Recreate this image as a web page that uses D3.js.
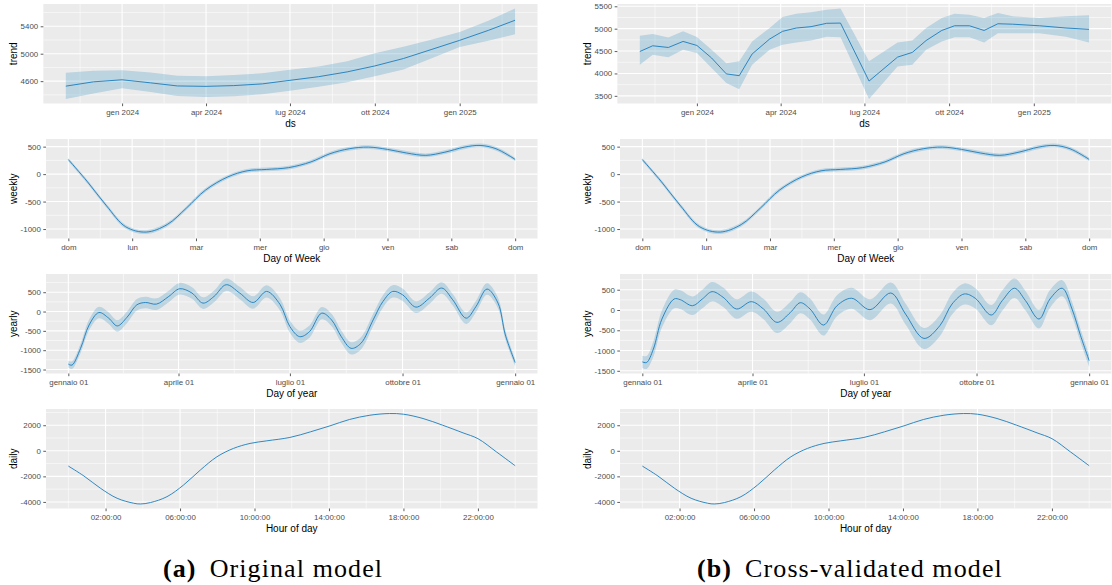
<!DOCTYPE html>
<html lang="it">
<head>
<meta charset="UTF-8">
<title>Prophet components: original vs cross-validated</title>
<script src="https://cdn.jsdelivr.net/npm/d3@7/dist/d3.min.js"></script>
<style>
    body { margin: 0; background: #fff; }
    svg { display: block; font-family: "Liberation Sans", Arial, sans-serif; }
    .caption { font-family: "Liberation Serif", "Times New Roman", serif; }
</style>
</head>
<body>
<svg id="chart" width="1112" height="585"></svg>
<script>
// ---- trend (dates + value, lower, upper) ----
const trendDatesA = ["2023-11-01", "2023-12-01", "2024-01-01", "2024-02-01", "2024-03-01", "2024-04-01",
    "2024-05-01", "2024-06-01", "2024-07-01", "2024-08-01", "2024-09-01", "2024-10-01", "2024-11-01",
    "2024-12-01", "2025-01-01", "2025-02-01", "2025-03-02"];
const trendA   = [4527, 4590, 4620, 4575, 4530, 4524, 4535, 4560, 4612, 4665, 4735, 4822, 4930, 5060, 5195, 5340, 5488];
const trendALo = [4340, 4420, 4495, 4440, 4385, 4370, 4380, 4410, 4460, 4520, 4585, 4673, 4770, 4930, 5097, 5190, 5283];
const trendAHi = [4722, 4750, 4760, 4725, 4680, 4673, 4690, 4715, 4765, 4815, 4890, 5005, 5100, 5205, 5317, 5480, 5659];

const trendDatesB = ["2023-10-31", "2023-11-14", "2023-12-01", "2023-12-17", "2024-01-01", "2024-01-17",
    "2024-02-02", "2024-02-16", "2024-03-01", "2024-03-20", "2024-04-03", "2024-04-18", "2024-05-04",
    "2024-05-21", "2024-06-05", "2024-07-06", "2024-08-06", "2024-08-22", "2024-09-06", "2024-09-23",
    "2024-10-07", "2024-10-23", "2024-11-08", "2024-11-23", "2024-12-09", "2025-01-07", "2025-02-05", "2025-03-02"];
const trendB   = [4490, 4618, 4580, 4715, 4625, 4345, 3990, 3950, 4435, 4768, 4940, 5015, 5045, 5120,
    5125, 3830, 4365, 4470, 4735, 4960, 5065, 5065, 4960, 5110, 5100, 5065, 5015, 4985];
const trendBLo = [4195, 4420, 4360, 4530, 4455, 4120, 3785, 3650, 4195, 4530, 4640, 4690, 4735, 4820,
    4810, 3430, 4155, 4195, 4530, 4715, 4810, 4810, 4690, 4900, 4900, 4900, 4820, 4690];
const trendBHi = [4840, 4880, 4805, 4940, 4815, 4530, 4230, 4270, 4715, 5015, 5260, 5335, 5365, 5420,
    5450, 4270, 4690, 4735, 5015, 5240, 5335, 5310, 5240, 5350, 5275, 5240, 5275, 5300];

const trendTicks = ["2024-01-01", "2024-04-01", "2024-07-01", "2024-10-01", "2025-01-01"];
const trendTickLabels = ["gen 2024", "apr 2024", "lug 2024", "ott 2024", "gen 2025"];
const trendYTicksA = [4600, 5000, 5400];
const trendYTicksB = [3500, 4000, 4500, 5000, 5500];

// ---- weekly (day 0 = domenica) ----
const weeklyDays = [0, 0.3, 0.6, 0.9, 1.22, 1.55, 1.85, 2.15, 2.5, 2.8, 3.1, 3.45, 3.8, 4.1, 4.4, 4.7,
    5.0, 5.3, 5.6, 5.9, 6.2, 6.45, 6.7, 7.0];
const weekly   = [265, -140, -580, -960, -1055, -918, -618, -290, -50, 60, 85, 118, 222, 372, 462, 492,
    450, 384, 342, 400, 490, 522, 462, 268];
const weeklyHw = [30, 35, 35, 35, 35, 35, 35, 35, 35, 35, 35, 35, 35, 35, 35, 35,
    35, 35, 35, 35, 35, 35, 35, 30];
const weekLabels = ["dom", "lun", "mar", "mer", "gio", "ven", "sab", "dom"];
const weeklyYTicks = [-1000, -500, 0, 500];

// ---- yearly (day of year) ----
const yearlyDaysA = [0, 3, 10, 17, 25, 33, 40, 48, 56, 63, 72, 82, 91, 101, 110, 119, 129, 140, 151, 162,
    173, 181, 189, 197, 207, 215, 223, 231, 239, 249, 257, 265, 273, 284, 295, 305, 314, 325, 333, 342,
    351, 357, 365];
const yearlyA = [-1360, -1386, -952, -346, -26, -172, -372, -146, 174, 234, 192, 390, 590, 478, 218, 390,
    694, 478, 234, 520, 180, -390, -650, -520, -42, -216, -650, -952, -822, -216, 260, 520, 434, 114, 348,
    608, 304, -172, 130, 582, 218, -606, -1320];
const yearlyHwA = [90, 100, 120, 140, 150, 150, 150, 150, 150, 150, 150, 150, 150, 150, 150, 150, 160, 160,
    160, 160, 160, 160, 160, 160, 160, 160, 160, 160, 160, 160, 160, 160, 160, 150, 150, 150, 150, 150, 150,
    150, 140, 120, 90];

const yearlyDaysB = [0, 3.5, 9, 16, 26, 31, 41, 49, 57, 66, 77, 89, 99, 110, 121, 129, 137, 148, 159, 171,
    186, 203, 215, 230, 243, 253, 263, 272, 285, 294, 304, 313, 324, 333, 343, 351, 358, 365];
const yearlyB = [-1280, -1295, -965, -223, 272, 255, 106, 272, 453, 314, 25, 206, 25, -305, -58, 180, 25,
    -371, 106, 290, 8, 420, -99, -701, -388, 148, 396, 289, -124, 231, 537, 231, -223, 272, 537, 25, -635, -1250];
const yearlyHwB = [150, 160, 190, 210, 230, 230, 230, 230, 240, 240, 240, 250, 250, 260, 260, 260, 260, 260,
    260, 260, 260, 260, 260, 260, 260, 260, 260, 250, 250, 250, 240, 240, 230, 220, 200, 180, 160, 150];

const yearTicks = [0, 90, 181, 273, 365];
const yearTickLabels = ["gennaio 01", "aprile 01", "luglio 01", "ottobre 01", "gennaio 01"];
const yearlyYTicks = [-1500, -1000, -500, 0, 500];

// ---- daily (hour of day) ----
const dailyHours = [0, 0.84, 1.73, 2.62, 3.51, 3.87, 4.41, 5.3, 6.19, 7.09, 7.98, 8.87, 9.76, 10.66, 11.9,
    13, 14.05, 15.1, 16.2, 17.26, 18, 19.05, 20.1, 21.2, 22, 23, 24];
const daily = [-1194, -1973, -2935, -3713, -4103, -4160, -4050, -3588, -2675, -1505, -468, 187, 577, 780,
    1045, 1482, 1950, 2450, 2785, 2917, 2863, 2527, 2005, 1404, 950, -90, -1170];
const hourTicks = [2, 6, 10, 14, 18, 22];
const hourTickLabels = ["02:00:00", "06:00:00", "10:00:00", "14:00:00", "18:00:00", "22:00:00"];
const dailyYTicks = [-4000, -2000, 0, 2000];

const captions = [["(a)", "Original model"], ["(b)", "Cross-validated model"]];

const BLUE = "#0072B2";
const svg = d3.select("#chart");
const ms = s => Date.parse(s + "T00:00:00Z");
const smooth = d3.curveCatmullRom.alpha(0.5);

// minor breaks: midpoints, plus one step beyond each end
function minors(t, dom) {
    const out = [];
    out.push(t[0] - (t[1] - t[0]) / 2);
    for (let i = 1; i < t.length; i++) out.push((t[i - 1] + t[i]) / 2);
    out.push(t[t.length - 1] + (t[t.length - 1] - t[t.length - 2]) / 2);
    return out.filter(v => v >= dom[0] && v <= dom[1]);
}

function panel(x0, y0, p) {
    const top = y0 + 4, bottom = y0 + 103.5, right = x0 + 537.5;
    const back = svg.append("g"), marks = svg.append("g"), axes = svg.append("g");

    const lo = p.lo || p.y, hi = p.hi || p.y;
    const yMin = d3.min(lo), yMax = d3.max(hi), padY = (yMax - yMin) * 0.05;
    const y = d3.scaleLinear().domain([yMin - padY, yMax + padY]).range([bottom, top]);

    // y axis first, so the panel can start after its labels
    const yAx = axes.append("g")
        .call(d3.axisLeft(y).tickValues(p.yTicks).tickFormat(d => String(d)).tickSize(2.7).tickPadding(2.5));
    yAx.select(".domain").remove();
    yAx.attr("font-family", null).attr("font-size", null);
    yAx.selectAll("text").attr("font-size", 7.9).attr("fill", "#4d4d4d");
    yAx.selectAll("line").attr("stroke", "#333").attr("stroke-width", 0.8);
    const labW = d3.max(yAx.selectAll("text").nodes(), n => n.getComputedTextLength());
    const left = x0 + 20.6 + labW + 5.2;
    yAx.attr("transform", `translate(${left},0)`);

    const xMin = d3.min(p.x), xMax = d3.max(p.x), padX = (xMax - xMin) * 0.05;
    const x = d3.scaleLinear().domain([xMin - padX, xMax + padX]).range([left, right]);

    back.append("rect").attr("x", left).attr("y", top)
        .attr("width", right - left).attr("height", bottom - top).attr("fill", "#ebebeb");
    back.selectAll(".gxm").data(minors(p.xTicks, x.domain())).join("line")
        .attr("x1", d => x(d)).attr("x2", d => x(d)).attr("y1", top).attr("y2", bottom)
        .attr("stroke", "#fff").attr("stroke-width", 0.55);
    back.selectAll(".gym").data(minors(p.yTicks, y.domain())).join("line")
        .attr("x1", left).attr("x2", right).attr("y1", d => y(d)).attr("y2", d => y(d))
        .attr("stroke", "#fff").attr("stroke-width", 0.55);
    back.selectAll(".gx").data(p.xTicks).join("line")
        .attr("x1", d => x(d)).attr("x2", d => x(d)).attr("y1", top).attr("y2", bottom)
        .attr("stroke", "#fff").attr("stroke-width", 1.1);
    back.selectAll(".gy").data(p.yTicks).join("line")
        .attr("x1", left).attr("x2", right).attr("y1", d => y(d)).attr("y2", d => y(d))
        .attr("stroke", "#fff").attr("stroke-width", 1.1);

    const idx = d3.range(p.x.length);
    if (p.lo) {
        marks.append("path")
            .attr("d", d3.area().curve(p.curve).x(i => x(p.x[i])).y0(i => y(lo[i])).y1(i => y(hi[i]))(idx))
            .attr("fill", BLUE).attr("fill-opacity", 0.2);
    }
    marks.append("path")
        .attr("d", d3.line().curve(p.curve).x(i => x(p.x[i])).y(i => y(p.y[i]))(idx))
        .attr("fill", "none").attr("stroke", "#1a7dbd").attr("stroke-width", 0.9);

    const xAx = axes.append("g").attr("transform", `translate(0,${bottom})`)
        .call(d3.axisBottom(x).tickValues(p.xTicks).tickFormat((d, i) => p.xLabels[i]).tickSize(2.7).tickPadding(3.2));
    xAx.select(".domain").remove();
    xAx.attr("font-family", null).attr("font-size", null);
    xAx.selectAll("text").attr("font-size", 7.9).attr("fill", "#4d4d4d");
    xAx.selectAll("line").attr("stroke", "#333").attr("stroke-width", 0.8);

    axes.append("text").attr("x", (left + right) / 2).attr("y", y0 + 127.3)
        .attr("text-anchor", "middle").attr("font-size", 10).attr("fill", "#000").text(p.xTitle);
    axes.append("text")
        .attr("transform", `translate(${x0 + 17.3},${(top + bottom) / 2}) rotate(-90)`)
        .attr("text-anchor", "middle").attr("font-size", 10).attr("fill", "#000").text(p.yTitle);
}

const cols = [
    { x0: 0, trend: [trendDatesA, trendA, trendALo, trendAHi, trendYTicksA], yearly: [yearlyDaysA, yearlyA, yearlyHwA] },
    { x0: 574, trend: [trendDatesB, trendB, trendBLo, trendBHi, trendYTicksB], yearly: [yearlyDaysB, yearlyB, yearlyHwB] }
];

cols.forEach((c, k) => {
    const [td, tv, tlo, thi, tyt] = c.trend;
    panel(c.x0, 0, {
        x: td.map(ms), y: tv, lo: tlo, hi: thi, curve: d3.curveLinear,
        xTicks: trendTicks.map(ms), xLabels: trendTickLabels, yTicks: tyt,
        xTitle: "ds", yTitle: "trend"
    });
    panel(c.x0, 135, {
        x: weeklyDays, y: weekly,
        lo: weekly.map((v, i) => v - weeklyHw[i]), hi: weekly.map((v, i) => v + weeklyHw[i]),
        curve: smooth,
        xTicks: d3.range(weekLabels.length), xLabels: weekLabels, yTicks: weeklyYTicks,
        xTitle: "Day of Week", yTitle: "weekly"
    });
    const [yd, yv, yhw] = c.yearly;
    panel(c.x0, 270, {
        x: yd, y: yv,
        lo: yv.map((v, i) => v - yhw[i]), hi: yv.map((v, i) => v + yhw[i]),
        curve: smooth,
        xTicks: yearTicks, xLabels: yearTickLabels, yTicks: yearlyYTicks,
        xTitle: "Day of year", yTitle: "yearly"
    });
    panel(c.x0, 405, {
        x: dailyHours, y: daily, curve: smooth,
        xTicks: hourTicks, xLabels: hourTickLabels, yTicks: dailyYTicks,
        xTitle: "Hour of day", yTitle: "daily"
    });

    const cap = svg.append("text").attr("class", "caption")
        .attr("x", [163, 697][k]).attr("y", 577).attr("font-size", 26).attr("letter-spacing", 1.1);
    cap.append("tspan").attr("font-weight", "bold").text(captions[k][0]);
    cap.append("tspan").attr("dx", 13).text(captions[k][1]);
});
</script>
</body>
</html>
